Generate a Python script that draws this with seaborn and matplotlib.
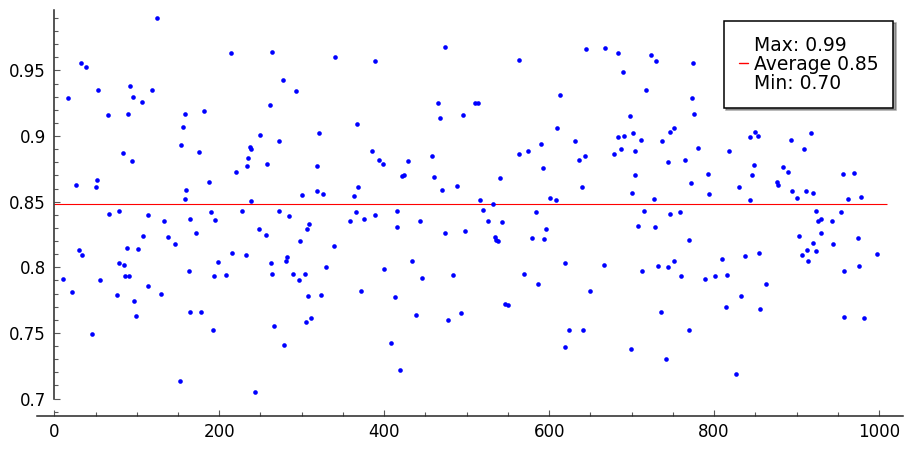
import numpy as np
import pandas as pd
import matplotlib as mpl
mpl.use('Agg')
import matplotlib.pyplot as plt
import seaborn as sns
from matplotlib.lines import Line2D
from matplotlib.ticker import MultipleLocator, FuncFormatter

# values
run_x = [10, 17, 22, 26, 30, 33, 34, 38, 46, 51, 52, 53, 55, 65, 66, 76, 78, 79, 83, 85,
         86, 88, 89, 91, 92, 94, 95, 97, 99, 102, 106, 107, 114, 114, 118, 124, 129, 133, 138, 146,
         153, 154, 156, 158, 158, 160, 163,
         165, 165, 172, 176, 178, 181, 188, 190, 193, 194, 195, 198, 208, 214, 215, 220, 228, 233, 234, 235,
         237, 238, 239, 243, 248, 249, 257, 258, 261, 263, 264, 264, 266, 272, 273, 277, 279, 281, 282, 285,
         290, 293, 297, 298, 300, 304, 305, 307, 308, 309, 311, 318, 319, 321, 324, 326, 329, 339, 340,
         358, 364, 366, 367, 368, 372, 376, 385, 389, 389, 394, 399, 400, 408, 413, 415, 416, 419, 422, 424,
         429, 434, 439, 444, 446, 458, 461, 465, 468, 470, 474, 474, 477, 483, 488, 493, 495, 498, 510, 514,
         516, 520, 526, 532, 534, 535, 538, 540, 543, 546, 550, 563, 563, 569, 574, 579, 584, 587, 590, 592,
         594, 596, 601, 608, 609, 613, 619, 619, 624, 631, 636, 640, 641, 643, 645, 650, 666, 668, 679, 683,
         683, 687, 689,
         691, 698, 699, 700, 702, 704, 704, 708, 711, 712, 715, 718, 724, 727, 728, 730, 732, 736, 737, 742,
         744, 744, 746, 746, 751, 752, 759, 760, 765, 770, 770, 772, 773, 774, 776, 780, 789, 793, 794, 801,
         810, 814, 816, 818, 827, 830, 833, 837, 843, 844, 846, 848, 850, 853, 854, 856, 863,
         876, 878, 884, 890, 893, 894, 901, 903, 907, 909, 911, 913, 914, 917, 920, 920, 923, 924, 926, 930,
         930, 943, 944, 954, 956, 957, 958, 962, 970, 975, 976, 978, 982, 998]

score = [.791, .929, .781, .863, .813, .956, .809, .953, .749, .861, .8665, .935, .790, .916, .841, .779, .803, .843, .887, .802,
         .793, .815, .917, .793, .938, .881, .930, .774, .763, .814, .926, .824, .786, .840, .935, .990, .780, .835, .823, .818,
         .713, .893, .907, .917, .852, .859, .797,
         .837, .766, .826, .888, .766, .919, .865, .842, .752, .793, .836, .804, .794, .963, .811, .873, .843, .809, .877, .883,
         .892, .8505, .890, .705, .829, .901, .825, .879, .924, .803, .964, .795, .755, .896, .843, .943, .741, .805, .808, .839,
         .795, .934, .790, .820, .855, .795, .758, .829, .778, .833, .761, .858, .877, .902, .779, .856, .800, .816, .960,
         .8355, .854, .842, .909, .861, .782, .837, .889, .957, .8395, .8815, .879, .799, .742, .777, .843, .831, .722, .8695, .8705,
         .881, .805, .764, .835, .792, .885, .869, .925, .914, .859, .8265, .968, .760, .794, .862, .765, .916, .828, .925, .925,
         .851, .844, .8355, .848, .823, .821, .820, .868, .8345, .772, .771, .886, .958, .795, .889, .8225, .8425, .7875, .894, .876,
         .8215, .829, .853, .8515, .906, .931, .739, .803, .752, .896, .882, .861, .752, .885, .966, .782, .8015, .967, .8865, .8995,
         .963, .890, .949,
         .900, .915, .738, .857, .902, .889, .870, .8315, .897, .797, .843, .935, .9615, .852, .8305, .957, .801, .766, .896, .730,
         .800, .8805, .841, .903, .805, .906, .842, .7935, .8815, .752, .821, .8645, .929, .9555, .917, .891, .791, .871, .856, .793,
         .806, .7695, .794, .889, .719, .861, .778, .8085, .851, .8995, .8705, .878, .903, .900, .811, .768, .787,
         .865, .8625, .8765, .873, .897, .8585, .853, .824, .809, .890, .858, .8135, .805, .902, .8185, .8565, .8125, .843, .835, .8265,
         .837, .8355, .818, .842, .871, .797, .762, .852, .872, .822, .801, .8535, .761, .810]

stat_max = 0.99
stat_avg = 0.848
stat_min = 0.70
avg_span = [0, 1010]

df = pd.DataFrame({'run': run_x, 'score': score})

sns.set_style('white')
plt.rcParams['font.family'] = ['DejaVu Sans']
plt.rcParams['text.color'] = 'black'

fig = plt.figure(figsize=(9.13, 4.5), dpi=100)
ax = fig.add_axes([0.0402, 0.0756, 0.9488, 0.9022])

sns.scatterplot(data=df, x='run', y='score', color='blue', s=11, linewidth=0,
                ax=ax, legend=False, zorder=3)
ax.hlines(stat_avg, avg_span[0], avg_span[1], color='red', linewidth=0.8, zorder=2)

ax.set_xlim(-21.3, 1029)
ax.set_ylim(0.6867, 0.9961)
ax.set_xlabel('')
ax.set_ylabel('')

# sage-like axes
for s in ['top', 'right']:
    ax.spines[s].set_visible(False)
ax.spines['left'].set_position(('data', 0))
ax.spines['left'].set_bounds(0.70, 0.9961)
for s in ['left', 'bottom']:
    ax.spines[s].set_linewidth(1.1)
    ax.spines[s].set_color('0.15')

ax.xaxis.set_major_locator(MultipleLocator(200))
ax.xaxis.set_minor_locator(MultipleLocator(50))
ax.yaxis.set_major_locator(MultipleLocator(0.05))
ax.yaxis.set_minor_locator(MultipleLocator(0.01))
ax.yaxis.set_major_formatter(FuncFormatter(lambda v, p: '%g' % round(v, 2)))
ax.xaxis.set_major_formatter(FuncFormatter(lambda v, p: '%g' % v))
ax.tick_params(which='both', direction='in', left=True, bottom=True, color='0.35',
               width=0.8, labelsize=12, labelcolor='black')
ax.tick_params(which='major', length=4.5)
ax.tick_params(which='minor', length=2.6)
ax.tick_params(axis='y', pad=6)
ax.tick_params(axis='x', pad=5)
ax.set_xticks([t for t in ax.get_xticks() if 0 <= t <= 1000])
ax.set_yticks([round(t, 2) for t in np.arange(0.70, 0.96, 0.05)])

handles = [Line2D([], [], color='none'),
           Line2D([], [], color='red', linewidth=1),
           Line2D([], [], color='none')]
labels = ['Max: %.2f' % stat_max, 'Average %.2f' % stat_avg, 'Min: %.2f' % stat_min]
leg = ax.legend(handles, labels, loc='upper right', bbox_to_anchor=(0.9888, 0.9736),
                borderaxespad=0, fontsize=13.5, frameon=True, fancybox=False, shadow=True,
                handlelength=0.5, handletextpad=0.3, labelspacing=0.0, borderpad=0.8,
                framealpha=1)
leg.get_frame().set_edgecolor('black')
leg.get_frame().set_linewidth(1.1)

plt.savefig('out.png', dpi=100)
